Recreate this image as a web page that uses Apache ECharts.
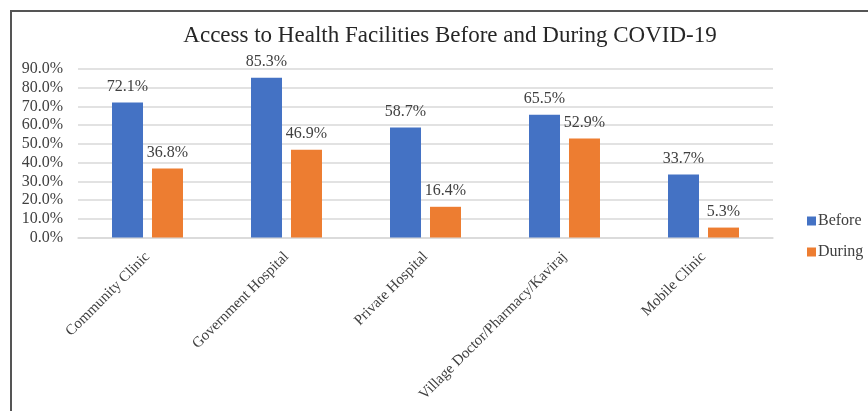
<!DOCTYPE html>
<html lang="en">
<head>
    <meta charset="UTF-8">
    <title>Access to Health Facilities</title>
    <script src="https://cdn.jsdelivr.net/npm/echarts@6/dist/echarts.min.js"></script>
    <style>
        body { margin: 0; background: #fff; }
        #frame { position: absolute; left: 10px; top: 10px; width: 900px; height: 450px;
                 border-left: 2px solid #555; border-top: 2px solid #555; }
        #box { position: absolute; left: 0; top: 0; width: 868px; height: 411px; }
    </style>
</head>
<body>
    <div id="frame"></div>
    <div id="box"></div>
    <script>
        var categories = ['Community Clinic', 'Government Hospital', 'Private Hospital', 'Village Doctor/Pharmacy/Kaviraj', 'Mobile Clinic'];
        var before = [72.1, 85.3, 58.7, 65.5, 33.7];
        var during = [36.8, 46.9, 16.4, 52.9, 5.3];
        var serif = "'Liberation Serif', 'Times New Roman', serif";

        var chart = echarts.init(document.getElementById('box'));
        var labelStyle = {
            show: true,
            position: 'top',
            distance: 8,
            fontFamily: serif,
            fontSize: 16,
            color: '#404040',
            formatter: function (p) { return p.value.toFixed(1) + '%'; }
        };
        chart.setOption({
            animation: false,
            textStyle: { fontFamily: serif },
            title: {
                text: 'Access to Health Facilities Before and During COVID-19',
                left: 445,
                textAlign: 'center',
                top: 19,
                textStyle: { fontFamily: serif, fontSize: 23, fontWeight: 'normal', color: '#262626' }
            },
            legend: {
                orient: 'vertical',
                left: 802,
                top: 208,
                itemWidth: 9,
                itemHeight: 9,
                itemGap: 15,
                icon: 'rect',
                textStyle: { fontFamily: serif, fontSize: 16, color: '#404040', padding: [0, 0, 0, -3] },
                data: ['Before', 'During']
            },
            grid: { left: 78, right: 95, top: 69, bottom: 173.5, containLabel: false },
            xAxis: {
                type: 'category',
                data: categories,
                axisLine: { lineStyle: { color: '#d9d9d9', width: 1.5 } },
                axisTick: { show: false },
                axisLabel: { rotate: 45, interval: 0, margin: 17, fontFamily: serif, fontSize: 15, color: '#404040' }
            },
            yAxis: {
                type: 'value',
                min: 0,
                max: 90,
                interval: 10,
                axisLine: { show: false },
                axisTick: { show: false },
                splitLine: { lineStyle: { color: '#d9d9d9', width: 1.5 } },
                axisLabel: {
                    margin: 15,
                    fontFamily: serif,
                    fontSize: 16,
                    color: '#404040',
                    formatter: function (v) { return v.toFixed(1) + '%'; }
                }
            },
            series: [
                {
                    name: 'Before',
                    type: 'bar',
                    data: before,
                    barWidth: 31,
                    barGap: '29%',
                    itemStyle: { color: '#4472C4' },
                    label: labelStyle
                },
                {
                    name: 'During',
                    type: 'bar',
                    data: during,
                    barWidth: 31,
                    itemStyle: { color: '#ED7D31' },
                    label: labelStyle
                }
            ]
        });
    </script>
</body>
</html>
